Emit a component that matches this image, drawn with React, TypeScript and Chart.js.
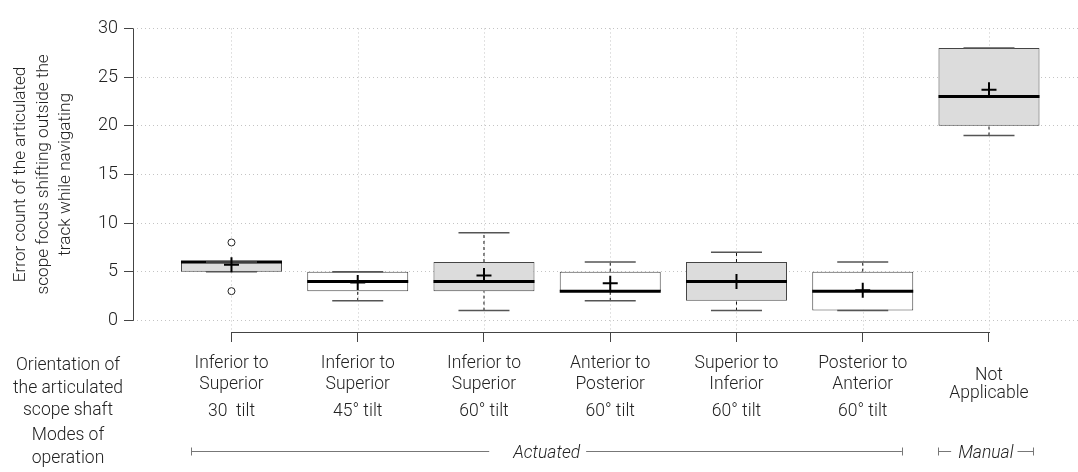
import React, { useEffect, useRef } from "react";
import { Chart, registerables } from "chart.js";
Chart.register(...registerables);

// ---------- data ----------
const positions = [1, 2, 3, 4, 5, 6, 7];
const orientationLine1 = ["Inferior to", "Inferior to", "Inferior to", "Anterior to", "Superior to", "Posterior to", ""];
const orientationLine2 = ["Superior", "Superior", "Superior", "Posterior", "Inferior", "Anterior", ""];
const tiltLabels = ["30  tilt", "45° tilt", "60° tilt", "60° tilt", "60° tilt", "60° tilt", ""];
const notApplicableLabel = ["Not", "Applicable"];
const q1Values = [5, 3, 3, 3, 2, 1, 20];
const q3Values = [6, 5, 6, 5, 6, 5, 28];
const medianValues = [6, 4, 4, 3, 4, 3, 23];
const meanValues = [5.7, 3.9, 4.6, 3.8, 4.0, 3.1, 23.7];
const whiskerLow = [5, 2, 1, 2, 1, 1, 19];
const whiskerHigh = [6, 5, 9, 6, 7, 6, 28];
const outlierX = [1, 1];
const outlierY = [8, 3];
const boxShaded = [true, false, true, false, true, false, true];
const yTickValues = [0, 5, 10, 15, 20, 25, 30];
const yTitleLines = ["Error count of the articulated", "scope focus shifting outside the", "track while navigating"];
const rowTitleOrientation = ["Orientation of", "the articulated", "scope shaft"];
const rowTitleModes = ["Modes of", "operation"];
const modeLabels = ["Actuated", "Manual"];
const modeStart = [0.683, 6.6];
const modeEnd = [6.31, 7.35];

// ---------- style ----------
const FAMILY = "Roboto, 'Liberation Sans', Arial, sans-serif";
const TEXT = "#222";
const AXIS = "#444";
const GRID = "#c4c4c4";
const FILL = "#dcdcdc";
const LABEL_SIZE = 17.5;
const ROW1 = 368;
const ROW2 = 388.5;
const ROW3 = 416;
const NA1 = 380;
const NA2 = 398;
const LEFT_X = 68;
const ORIENT_ROWS = [370, 392.5, 415];
const MODE_ROWS = [440, 463];
const BRACKET_Y = 451.5;
const BRACKET_TEXT_BASE = 458;
const GAP_L = [24, 7];
const GAP_R = [6, 4];

const annotatePlugin = {
  id: "annotate",
  beforeDatasetsDraw(chart: any) {
    const { ctx, chartArea, scales } = chart;
    const x = scales.x, y = scales.y;
    ctx.save();
    ctx.strokeStyle = GRID;
    ctx.lineWidth = 1;
    ctx.setLineDash([1, 3]);
    positions.forEach((p) => {
      const px = Math.round(x.getPixelForValue(p)) + 0.5;
      ctx.beginPath();
      ctx.moveTo(px, y.getPixelForValue(yTickValues[yTickValues.length - 1]));
      ctx.lineTo(px, chartArea.bottom);
      ctx.stroke();
    });
    ctx.restore();
  },
  afterDraw(chart: any) {
    const { ctx, chartArea, scales } = chart;
    const x = scales.x, y = scales.y;
    ctx.save();
    ctx.setLineDash([]);
    // y axis line (0..30)
    ctx.strokeStyle = AXIS;
    ctx.lineWidth = 1;
    ctx.beginPath();
    const ax = Math.round(chartArea.left) + 0.5;
    ctx.moveTo(ax, y.getPixelForValue(yTickValues[0]) + 0.5);
    ctx.lineTo(ax, y.getPixelForValue(yTickValues[yTickValues.length - 1]));
    ctx.stroke();
    // x axis line (first..last category)
    ctx.beginPath();
    const by = Math.round(chartArea.bottom) + 0.5;
    ctx.moveTo(x.getPixelForValue(positions[0]), by);
    ctx.lineTo(x.getPixelForValue(positions[positions.length - 1]) + 1, by);
    ctx.stroke();

    // category labels
    ctx.fillStyle = TEXT;
    ctx.textAlign = "center";
    ctx.textBaseline = "alphabetic";
    ctx.font = `300 ${LABEL_SIZE}px ${FAMILY}`;
    positions.forEach((p, i) => {
      const px = x.getPixelForValue(p);
      if (orientationLine1[i]) ctx.fillText(orientationLine1[i], px, ROW1);
      if (orientationLine2[i]) ctx.fillText(orientationLine2[i], px, ROW2);
      if (tiltLabels[i]) ctx.fillText(tiltLabels[i], px, ROW3);
    });
    const lastPx = x.getPixelForValue(positions[positions.length - 1]);
    ctx.fillText(notApplicableLabel[0], lastPx, NA1);
    ctx.fillText(notApplicableLabel[1], lastPx, NA2);

    // left row titles
    rowTitleOrientation.forEach((t, i) => ctx.fillText(t, LEFT_X, ORIENT_ROWS[i]));
    rowTitleModes.forEach((t, i) => ctx.fillText(t, LEFT_X, MODE_ROWS[i]));

    // mode brackets
    ctx.font = `italic 300 ${LABEL_SIZE}px ${FAMILY}`;
    modeLabels.forEach((label, g) => {
      const x0 = x.getPixelForValue(modeStart[g]);
      const x1 = x.getPixelForValue(modeEnd[g]);
      const cx = (x0 + x1) / 2;
      const w = ctx.measureText(label).width;
      const tl = cx - w / 2, tr = cx + w / 2;
      ctx.strokeStyle = "#777";
      ctx.lineWidth = 1;
      ctx.beginPath();
      ctx.moveTo(x0, BRACKET_Y);
      ctx.lineTo(tl - GAP_L[g], BRACKET_Y);
      ctx.moveTo(tr + GAP_R[g], BRACKET_Y);
      ctx.lineTo(x1, BRACKET_Y);
      ctx.moveTo(Math.round(x0) + 0.5, BRACKET_Y - 4);
      ctx.lineTo(Math.round(x0) + 0.5, BRACKET_Y + 4);
      ctx.moveTo(Math.round(x1) + 0.5, BRACKET_Y - 4);
      ctx.lineTo(Math.round(x1) + 0.5, BRACKET_Y + 4);
      ctx.stroke();
      ctx.fillText(label, cx, BRACKET_TEXT_BASE);
    });
    ctx.restore();
  },
};

export default function App() {
  const ref = useRef<HTMLCanvasElement>(null);
  useEffect(() => {
    const canvas = ref.current;
    if (!canvas) return;
    const whiskerData: any[] = [];
    positions.forEach((p, i) => {
      whiskerData.push({ x: p, y: whiskerLow[i] }, { x: p, y: q1Values[i] }, { x: p, y: null });
      whiskerData.push({ x: p, y: q3Values[i] }, { x: p, y: whiskerHigh[i] }, { x: p, y: null });
    });
    const capData: any[] = [];
    positions.forEach((p, i) => {
      capData.push({ x: p, y: whiskerLow[i] }, { x: p, y: whiskerHigh[i] });
    });
    const chart = new Chart(canvas, {
      type: "bar",
      data: {
        datasets: [
          {
            type: "bar",
            label: "box",
            data: positions.map((p, i) => ({ x: p, y: [q1Values[i], q3Values[i]] })) as any,
            backgroundColor: boxShaded.map((s) => (s ? FILL : "#ffffff")),
            borderColor: AXIS,
            borderWidth: 1,
            borderSkipped: false,
            barPercentage: 0.8,
            categoryPercentage: 1,
            order: 6,
          } as any,
          {
            type: "line",
            label: "whiskers",
            data: whiskerData,
            borderColor: "#111",
            borderWidth: 1,
            borderDash: [3, 3],
            pointRadius: 0,
            spanGaps: false,
            order: 5,
          } as any,
          {
            type: "line",
            label: "median",
            data: positions.map((p, i) => ({ x: p, y: medianValues[i] })),
            showLine: false,
            pointStyle: "line",
            pointRadius: 50.5,
            pointHoverRadius: 50.5,
            pointBorderWidth: 3,
            pointBorderColor: "#000",
            order: 3,
          } as any,
          {
            type: "line",
            label: "caps",
            data: capData,
            showLine: false,
            pointStyle: "line",
            pointRadius: 25.5,
            pointHoverRadius: 25.5,
            pointBorderWidth: 1.5,
            pointBorderColor: "#555",
            order: 2,
          } as any,
          {
            type: "line",
            label: "outliers",
            data: outlierX.map((xv, i) => ({ x: xv, y: outlierY[i] })),
            showLine: false,
            pointStyle: "circle",
            pointRadius: 3.5,
            pointBorderWidth: 1,
            pointBorderColor: "#222",
            pointBackgroundColor: "#fff",
            order: 1,
          } as any,
          {
            type: "line",
            label: "mean",
            data: positions.map((p, i) => ({ x: p, y: meanValues[i] })),
            showLine: false,
            pointStyle: "cross",
            pointRadius: 7.5,
            pointHoverRadius: 7.5,
            pointBorderWidth: 2,
            pointBorderColor: "#000",
            order: 0,
          } as any,
        ],
      },
      options: {
        responsive: false,
        animation: false,
        events: [],
        layout: { autoPadding: false, padding: { top: 7, right: 0, bottom: 0, left: 0 } },
        plugins: { legend: { display: false }, tooltip: { enabled: false } },
        scales: {
          x: {
            type: "linear",
            min: 0.22,
            max: 7.705,
            offset: false,
            afterBuildTicks: (s: any) => {
              s.ticks = positions.map((v) => ({ value: v }));
            },
            afterFit: (s: any) => {
              s.height = 140;
            },
            grid: {
              offset: false,
              drawOnChartArea: false,
              drawTicks: true,
              tickLength: 10,
              tickColor: AXIS,
              tickWidth: 1,
            },
            border: { display: false },
            ticks: { display: false },
          },
          y: {
            type: "linear",
            min: -1.2,
            max: 31.2,
            afterBuildTicks: (s: any) => {
              s.ticks = yTickValues.map((v) => ({ value: v }));
            },
            afterFit: (s: any) => {
              s.width = 133;
            },
            grid: {
              color: GRID,
              lineWidth: 1,
              drawTicks: true,
              tickLength: 9,
              tickColor: AXIS,
              tickWidth: 1,
              tickBorderDash: [],
            },
            border: { display: false, dash: [1, 3] },
            ticks: {
              padding: 6,
              color: TEXT,
              font: { family: FAMILY, size: 18, weight: "300" as any },
              callback: (v: any) => String(v),
            },
            title: {
              display: true,
              text: yTitleLines,
              color: TEXT,
              font: { family: FAMILY, size: 17.2, weight: "300" as any, lineHeight: 1.3 },
              padding: { top: 10, bottom: 0 },
            },
          },
        },
      } as any,
      plugins: [annotatePlugin],
    });
    return () => chart.destroy();
  }, []);
  return (
    <div style={{ position: "fixed", left: 0, top: 0, width: 1078, height: 472, background: "#fff" }}>
      <canvas ref={ref} width={1078} height={472} style={{ display: "block", width: 1078, height: 472 }} />
    </div>
  );
}
